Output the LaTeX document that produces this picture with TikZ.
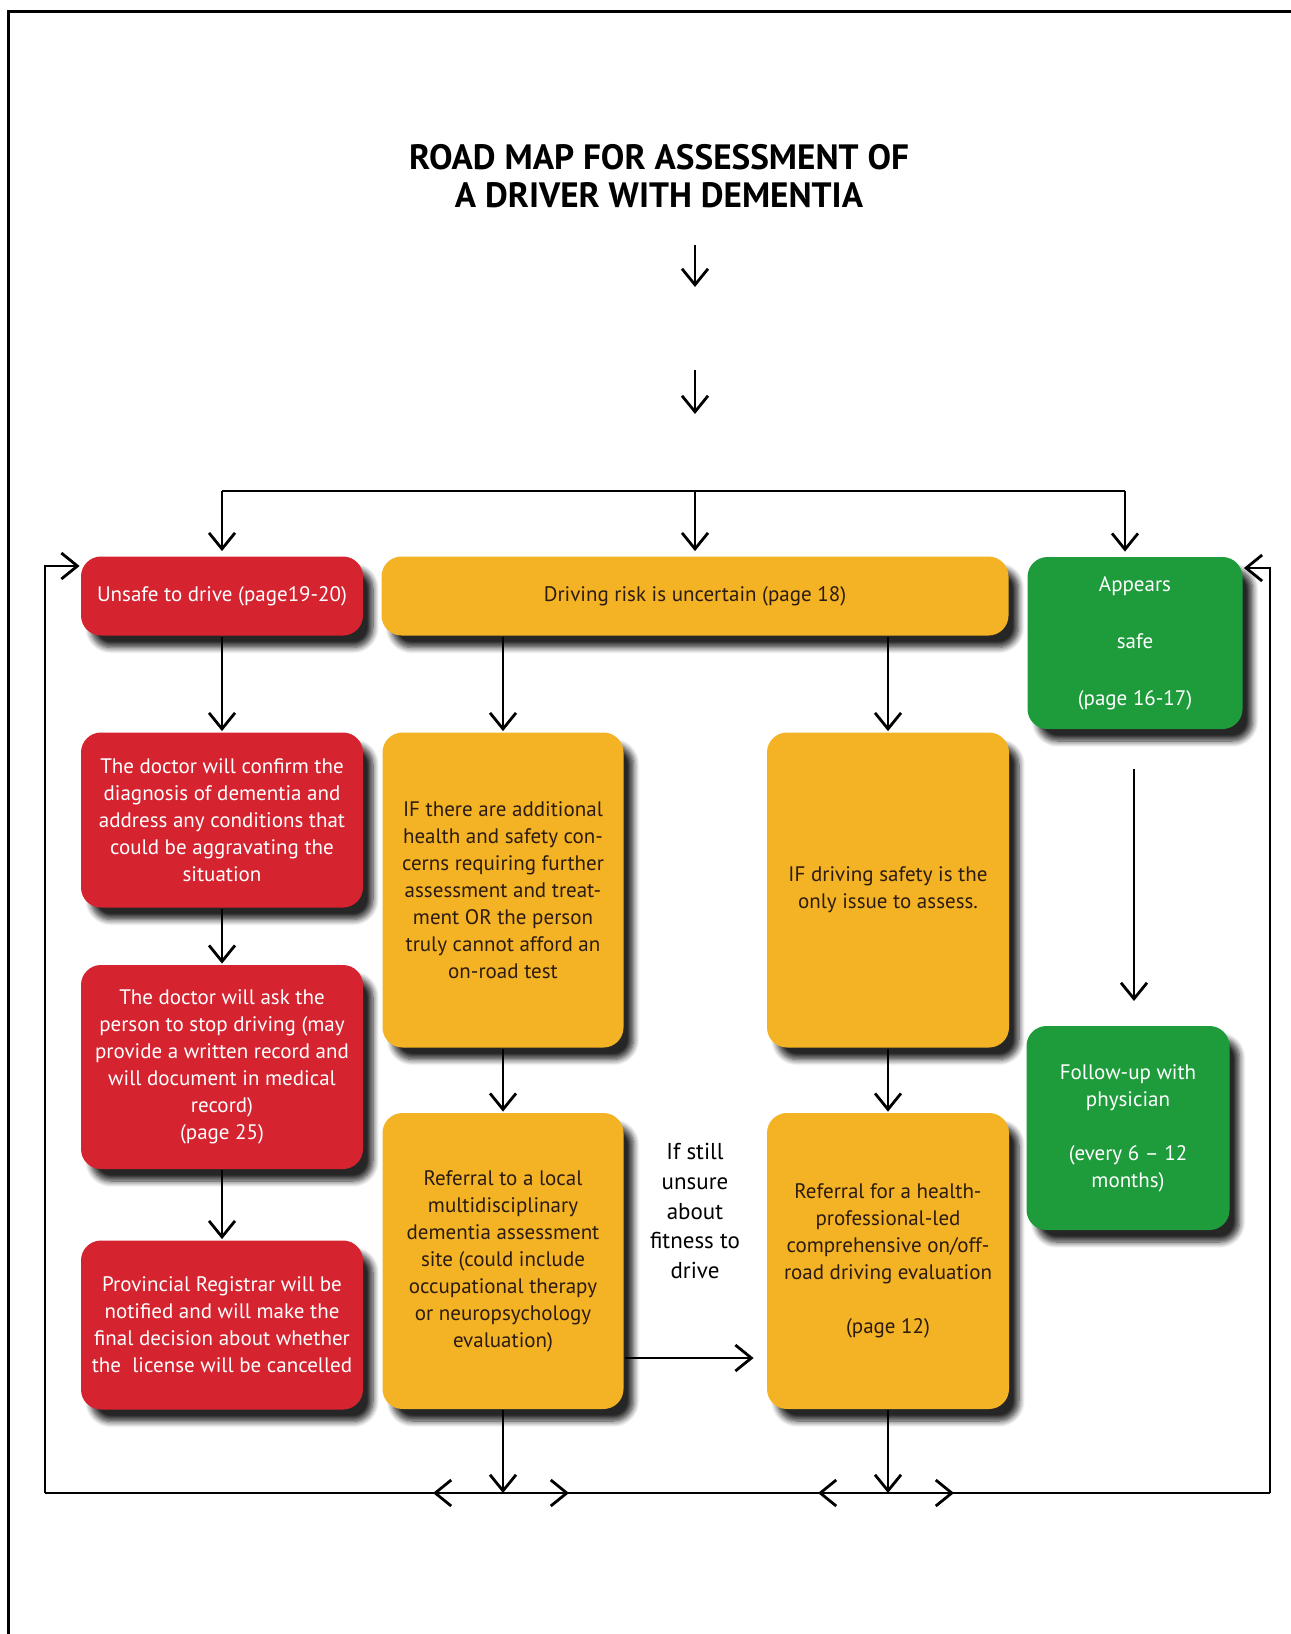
\documentclass[tikz,border=0pt]{standalone}
\usepackage{fontspec}
\setmainfont{PT Sans}
\usetikzlibrary{arrows.meta,shadows.blur}
\definecolor{unsafered}{HTML}{D52330}
\definecolor{riskamber}{HTML}{F4B324}
\definecolor{safegreen}{HTML}{1E9C3C}
\definecolor{inkdark}{HTML}{2B1B12}

\begin{document}
\begin{tikzpicture}[x=0.5pt,y=-0.5pt,line width=1.4pt,
    box/.style={rounded corners=10pt,align=center,inner sep=2pt,
      font=\fontsize{10.5}{13.5}\selectfont,
      blur shadow={shadow xshift=5pt,shadow yshift=-6pt,shadow blur radius=3pt,
        shadow blur steps=8,shadow opacity=85,fill=black!85!violet}},
    redbox/.style={box,fill=unsafered,text=white},
    ambox/.style={box,fill=riskamber,text=inkdark},
    grbox/.style={box,fill=safegreen,text=white},
    arr/.style={-{Straight Barb[length=8pt,width=13pt]}}]
  \useasboundingbox (0,0) rectangle (1291,1634);
  \draw[line width=1.5pt] (8,1634) |- (1291,11);
  \node[font=\bfseries\fontsize{17.6}{19.3}\selectfont,align=center] (title) at (659,176)
    {ROAD MAP FOR ASSESSMENT OF\\A DRIVER WITH DEMENTIA};
  \coordinate (a1) at (695,245); \coordinate (a2) at (695,287);
  \coordinate (a3) at (695,370); \coordinate (a4) at (695,414);
  \draw[arr] (a1) -- (a2); \draw[arr] (a3) -- (a4);

  \node[redbox,minimum width=141pt,minimum height=39.5pt] (unsafe) at (222,596)
    {\strut Unsafe to drive (page19-20)};
  \node[ambox,minimum width=313.5pt,minimum height=39.5pt] (risk) at (695,596)
    {\strut Driving risk is uncertain (page 18)};
  \node[grbox,minimum width=107.5pt,minimum height=86pt] (safe) at (1135,643)
    {\strut Appears\\[15pt]safe\\[15pt](page 16-17)\strut};
  \node[redbox,minimum width=141pt,minimum height=87.5pt] (confirm) at (222,820)
    {The doctor will confirm the\\diagnosis of dementia and\\address any conditions that\\could be aggravating the\\situation};
  \node[ambox,minimum width=120.5pt,minimum height=157.5pt] (extra) at (503,890)
    {IF there are additional\\health and safety con-\\cerns requiring further\\assessment and treat-\\ment OR the person\\truly cannot afford an\\on-road test};
  \node[ambox,minimum width=121pt,minimum height=157.5pt] (only) at (888,890)
    {IF driving safety is the\\only issue to assess.};
  \node[redbox,minimum width=141pt,minimum height=102pt] (stop) at (222,1067)
    {The doctor will ask the\\person to stop driving (may\\provide a written record and\\will document in medical\\record)\\(page 25)};
  \node[grbox,minimum width=101.5pt,minimum height=102pt] (follow) at (1128,1128)
    {Follow-up with\\physician\\[13.5pt](every 6 -- 12\\months)};
  \node[ambox,minimum width=120.5pt,minimum height=148pt] (local) at (503,1261)
    {Referral to a local\\multidisciplinary\\dementia assessment\\site (could include\\occupational therapy\\or neuropsychology\\evaluation)};
  \node[ambox,minimum width=121pt,minimum height=148pt] (road) at (888,1261)
    {Referral for a health-\\professional-led\\comprehensive on/off-\\road driving evaluation\\[13.5pt](page 12)};
  \node[redbox,minimum width=141pt,minimum height=84.5pt] (registrar) at (222,1325)
    {Provincial Registrar will be\\notified and will make the\\final decision about whether\\the~ license will be cancelled};
  \node[font=\fontsize{11.5}{14.9}\selectfont,align=center] (unsure) at (695,1211)
    {If still\\unsure\\about\\fitness to\\drive};

  \coordinate (sl) at (222,491); \coordinate (sr) at (1125,491);
  \draw (sl) -- (sr);
  \draw[arr,shorten >=2pt] (sl) -- (unsafe.north);
  \draw[arr,shorten >=2pt] (sl -| risk) -- (risk.north);
  \draw[arr,shorten >=2pt] (sr) -- (sr |- safe.north);
  \draw[arr] (risk.south -| extra) -- (extra); \draw[arr] (risk.south -| only) -- (only);
  \draw[arr] (unsafe) -- (confirm); \draw[arr] (confirm) -- (stop);
  \draw[arr] (stop) -- (registrar);
  \draw[arr] (extra) -- (local); \draw[arr] (only) -- (road);
  \coordinate (h) at (0,1358);
  \draw[arr,shorten >=6pt] (local.east |- h) -- (road.west |- h);
  \coordinate (s1) at (1134,769); \coordinate (s2) at (1134,1001);
  \draw[arr] (s1) -- (s2);

  \coordinate (bl) at (45,1493); \coordinate (br) at (1270,1493);
  \draw (bl) -- (br);
  \foreach \m in {local,road} {
    \draw[arr] (\m) -- (\m |- bl);
    \draw[arr] (\m |- bl) -- +(-70,0); \draw[arr] (\m |- bl) -- +(66,0); }
  \coordinate (lt) at (45,566); \coordinate (rt) at (1270,568);
  \draw[arr] (bl) -- (lt) -- (unsafe.west |- lt);
  \draw[arr] (br) -- (rt) -- (safe.east |- rt);
\end{tikzpicture}
\end{document}
